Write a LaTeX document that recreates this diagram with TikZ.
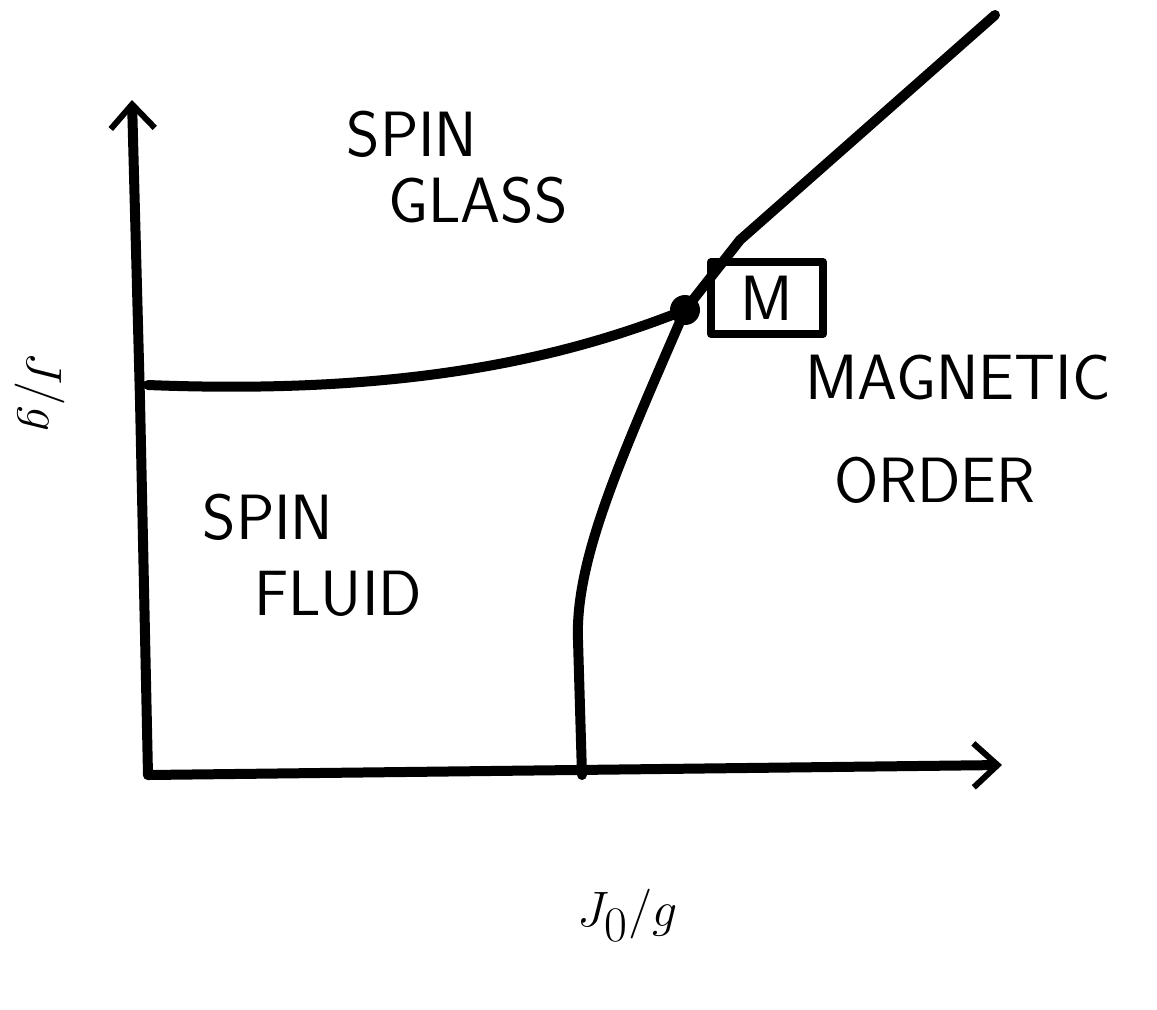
\documentclass[tikz,border=0pt]{standalone}
\usepackage{tikz}
\usetikzlibrary{arrows.meta}

\begin{document}
\begin{tikzpicture}[x=0.5pt, y=-0.5pt, line cap=round, line join=round]
\tikzset{
  ax/.style={line width=5pt, -{Straight Barb[length=12pt, width=22pt, line width=3pt]}},
  bd/.style={line width=5pt},
  lab/.style={font=\sffamily\fontsize{32}{36}\selectfont, inner sep=0pt},
  axl/.style={font=\fontsize{42}{46}\selectfont, inner sep=0pt}}
\useasboundingbox (0,0) rectangle (1157,1009);

% ---------------- axes ----------------
\coordinate (o) at (148,775);
\coordinate (ytop) at (132,100);
\coordinate (xend) at (1002,765);
\draw[ax] (o) -- (140,400) -- (ytop);
\draw[ax] (o) -- (xend);
\node[axl, rotate=-90] (ylab) at (40,392) {$J/g$};
\node[axl] (xlab) at (628,915) {$J_0/g$};

% ---------------- phase boundaries ----------------
\coordinate (gl) at (148,385);
\coordinate (top) at (995,15);
\coordinate (base) at (582,775);
\node[circle, fill=black, minimum size=15pt, inner sep=0pt] (mc) at (685,310) {};
\draw[bd] (gl) .. controls (400,395) and (560,360) .. (mc.center);
\draw[bd] (mc.center) -- (740,240) -- (top);
\draw[bd] (mc.center) .. controls (620,460) and (575,560) .. (578,640) -- (base);

% ---------------- multicritical point label ----------------
\node[draw, line width=4pt, minimum width=56pt, minimum height=36pt, font=\sffamily\fontsize{32}{36}\selectfont] (mbox) at (767,298) {M};

% ---------------- phase names ----------------
\node[lab] (sg1) at (412,134) {SPIN};
\node[lab] (sg2) at (478,200) {GLASS};
\node[lab] (sf1) at (268,517) {SPIN};
\node[lab] (sf2) at (338,594) {FLUID};
\node[lab] (mo1) at (958,378) {MAGNETIC};
\node[lab] (mo2) at (935,480) {ORDER};
\end{tikzpicture}
\end{document}
